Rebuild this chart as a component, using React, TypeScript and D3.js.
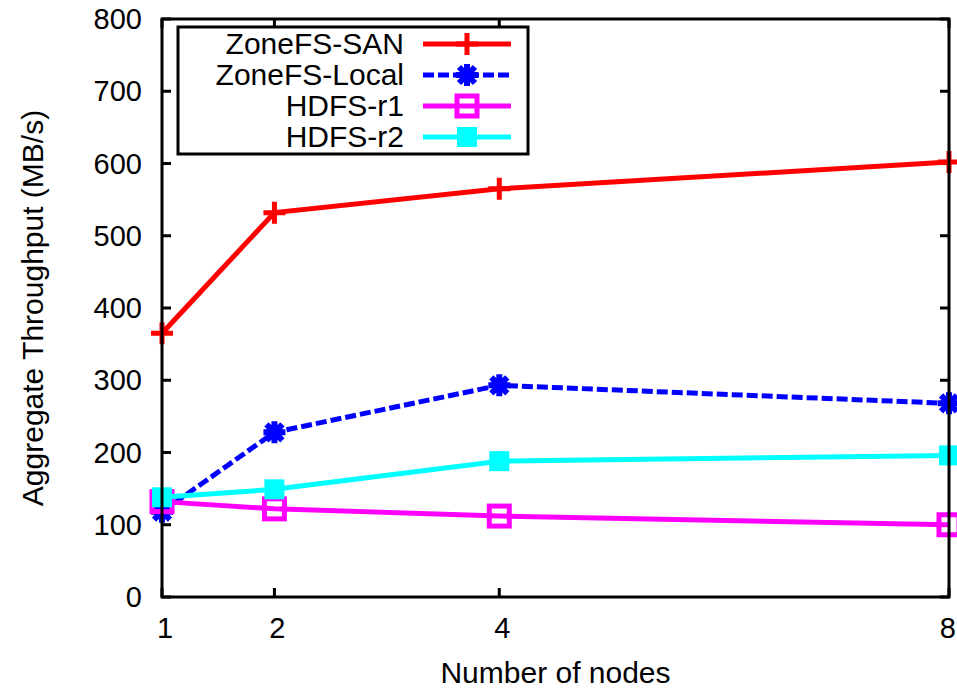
import * as d3 from 'd3';
import { useRef, useEffect } from 'react';

const nodes = [1, 2, 4, 8];
const zoneSan = [365, 532, 565, 602];
const zoneLocal = [118, 228, 293, 268];
const hdfsR1 = [132, 122, 112, 100];
const hdfsR2 = [138, 149, 188, 196];
const yTicks = [0, 100, 200, 300, 400, 500, 600, 700, 800];

const series = [
  { name: 'ZoneFS-SAN', values: zoneSan, color: '#ff0000', dash: null, marker: 'plus' },
  { name: 'ZoneFS-Local', values: zoneLocal, color: '#0000ff', dash: '11,4', marker: 'star' },
  { name: 'HDFS-r1', values: hdfsR1, color: '#ff00ff', dash: null, marker: 'openSquare' },
  { name: 'HDFS-r2', values: hdfsR2, color: '#00ffff', dash: null, marker: 'square' },
];

const W = 957;
const H = 690;
const left = 162;
const right = 949;
const top = 19;
const bottom = 597;
const font = '"Liberation Sans", Arial, Helvetica, sans-serif';

const drawMarker = (g, type, x, y, color) => {
  if (type === 'plus') {
    g.append('path')
      .attr('d', `M${x - 11},${y}H${x + 11}M${x},${y - 11}V${y + 11}`)
      .attr('stroke', color).attr('stroke-width', 5).attr('fill', 'none');
  } else if (type === 'star') {
    g.append('path')
      .attr('d', `M${x - 11},${y}H${x + 11}M${x},${y - 11}V${y + 11}M${x - 8},${y - 8}L${x + 8},${y + 8}M${x - 8},${y + 8}L${x + 8},${y - 8}`)
      .attr('stroke', color).attr('stroke-width', 6).attr('fill', 'none');
  } else if (type === 'openSquare') {
    g.append('rect')
      .attr('x', x - 10).attr('y', y - 10).attr('width', 20).attr('height', 20)
      .attr('stroke', color).attr('stroke-width', 5).attr('fill', 'none');
  } else {
    g.append('rect')
      .attr('x', x - 10).attr('y', y - 10).attr('width', 20).attr('height', 20)
      .attr('fill', color);
  }
};

const App = () => {
  const svgRef = useRef();

  useEffect(() => {
    const svg = d3.select(svgRef.current);
    svg.selectAll('*').remove();

    const x = d3.scaleLinear().domain([1, 8]).range([left, right]);
    const y = d3.scaleLinear().domain([0, 800]).range([bottom, top]);

    // tick marks on all four sides, pointing inward
    const ticks = svg.append('g').attr('stroke', '#000').attr('stroke-width', 3);
    yTicks.forEach((t) => {
      ticks.append('line').attr('x1', left).attr('x2', left + 9).attr('y1', y(t)).attr('y2', y(t));
      ticks.append('line').attr('x1', right).attr('x2', right - 9).attr('y1', y(t)).attr('y2', y(t));
    });
    nodes.forEach((n) => {
      ticks.append('line').attr('x1', x(n)).attr('x2', x(n)).attr('y1', bottom).attr('y2', bottom - 9);
      ticks.append('line').attr('x1', x(n)).attr('x2', x(n)).attr('y1', top).attr('y2', top + 9);
    });

    // tick labels
    svg.append('g')
      .selectAll('text')
      .data(yTicks)
      .join('text')
      .attr('x', 142)
      .attr('y', (d) => y(d) + 10)
      .attr('text-anchor', 'end')
      .attr('font-family', font)
      .attr('font-size', 29)
      .text((d) => d);

    // the last label sits at the right edge, keep it inside the picture
    svg.append('g')
      .selectAll('text')
      .data(nodes)
      .join('text')
      .attr('x', (d) => (d === 8 ? W - 1 : x(d) + 3))
      .attr('y', 638)
      .attr('text-anchor', (d) => (d === 8 ? 'end' : 'middle'))
      .attr('font-family', font)
      .attr('font-size', 29)
      .text((d) => d);

    // axis titles
    svg.append('text')
      .attr('x', (left + right) / 2)
      .attr('y', 683)
      .attr('text-anchor', 'middle')
      .attr('font-family', font)
      .attr('font-size', 30)
      .text('Number of nodes');

    svg.append('text')
      .attr('transform', `translate(43,${(top + bottom) / 2}) rotate(-90)`)
      .attr('text-anchor', 'middle')
      .attr('font-family', font)
      .attr('font-size', 30)
      .text('Aggregate Throughput (MB/s)');

    // legend
    const legend = svg.append('g');
    legend.append('rect')
      .attr('x', 178).attr('y', 27).attr('width', 350).attr('height', 127)
      .attr('fill', '#fff').attr('stroke', '#000').attr('stroke-width', 3);

    series.forEach((s, i) => {
      const ly = 44 + i * 31;
      legend.append('text')
        .attr('x', 404).attr('y', ly + 10)
        .attr('text-anchor', 'end')
        .attr('font-family', font)
        .attr('font-size', 30)
        .text(s.name);
      legend.append('line')
        .attr('x1', 423).attr('x2', 511).attr('y1', ly).attr('y2', ly)
        .attr('stroke', s.color).attr('stroke-width', 5)
        .attr('stroke-dasharray', s.dash);
      drawMarker(legend, s.marker, 467, ly, s.color);
    });

    // data lines and markers
    const line = d3
      .line()
      .x((d) => x(d[0]))
      .y((d) => y(d[1]));

    series.forEach((s) => {
      const pts = nodes.map((n, i) => [n, s.values[i]]);
      const g = svg.append('g');
      g.append('path')
        .attr('d', line(pts))
        .attr('fill', 'none')
        .attr('stroke', s.color)
        .attr('stroke-width', 5)
        .attr('stroke-dasharray', s.dash);
      pts.forEach((p) => drawMarker(g, s.marker, x(p[0]), y(p[1]), s.color));
    });

    // frame
    svg.append('rect')
      .attr('x', left).attr('y', top)
      .attr('width', right - left).attr('height', bottom - top)
      .attr('fill', 'none').attr('stroke', '#000').attr('stroke-width', 3);
  }, []);

  return (
    <svg
      ref={svgRef}
      width={W}
      height={H}
      style={{ position: 'absolute', left: 0, top: 0, background: '#fff' }}
    />
  );
};

export default App;
